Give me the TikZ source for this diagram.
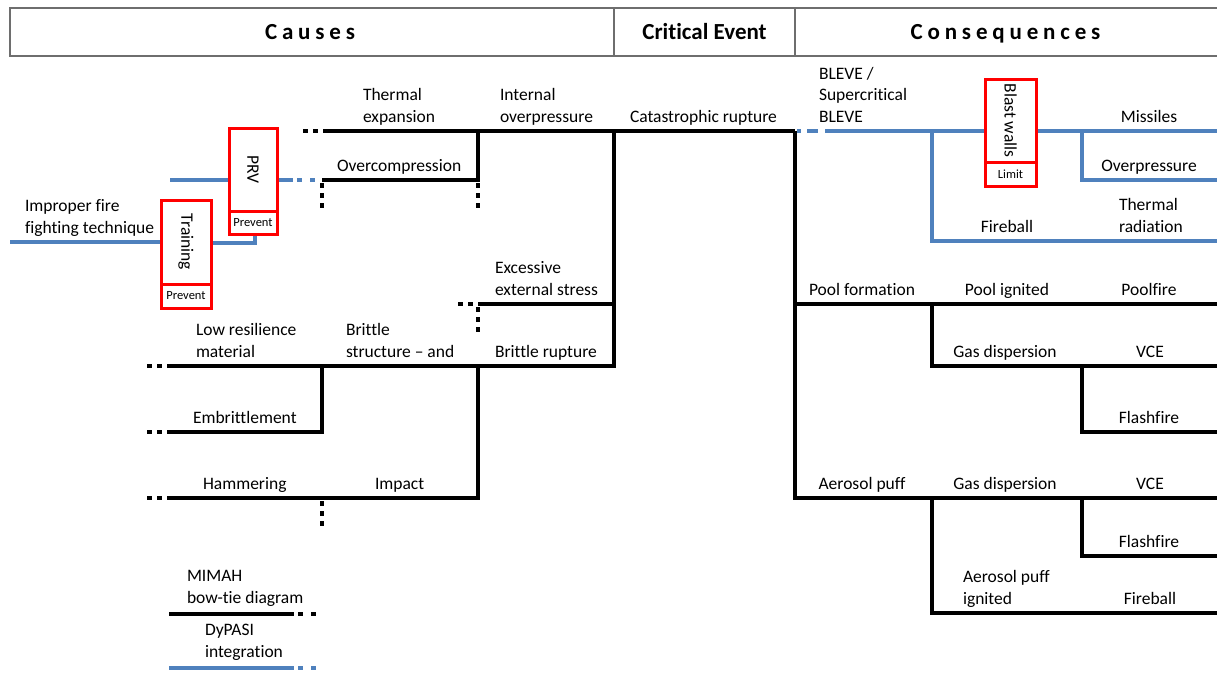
\documentclass[tikz,border=0pt]{standalone}
\usepackage{fontspec}
\setmainfont{Carlito}[Ligatures=NoCommon]
\usepackage{graphicx}
\usepackage{tikz}
\usetikzlibrary{calc}
\definecolor{dyblue}{HTML}{4F81BD}
\definecolor{barred}{HTML}{FF0000}
\definecolor{hdrline}{HTML}{6E6E6E}
\pgfdeclarelayer{bg}
\pgfsetlayers{bg,main}

\tikzset{
  mimah/.style={black, line width=4pt, line join=miter},
  dypasi/.style={dyblue, line width=4pt, line join=miter},
  tail/.style={line width=4pt, dash pattern=on 5pt off 5pt},
  lbl/.style={font=\fontsize{17.5}{21.5}\selectfont, inner sep=0pt, outer sep=0pt,
    anchor=south, align=center, execute at end node=\strut},
  lbll/.style={lbl, anchor=south west, align=left},
  barrier/.style={draw=barred, line width=3pt, fill=white, inner sep=0pt, outer sep=0pt,
    font=\fontsize{17.5}{21.5}\selectfont},
  bartag/.style={barrier, font=\fontsize{12.5}{14}\selectfont},
  hdr/.style={font=\fontsize{23}{28}\selectfont\bfseries, inner sep=0pt, anchor=base},
}

\begin{document}
\begin{tikzpicture}[x=1pt, y=-1pt]
  \useasboundingbox (0,0) rectangle (1217,673);
  % header band
  \draw[hdrline, line width=1.2pt] (1217,8) -- (10,8) -- (10,56) -- (1217,56);
  \draw[hdrline, line width=1.2pt] (614,8) -- (614,56) (795,8) -- (795,56);
  \node[hdr] (hcau) at (310,39.5) {\addfontfeatures{LetterSpace=21}Causes};
  \node[hdr] (hce)  at (704.5,39.5) {Critical Event};
  \node[hdr] (hcon) at (1005.5,39.5) {\addfontfeatures{LetterSpace=21}Consequences};

  % junctions, causes side
  \coordinate (E)   at (1217,0);
  \coordinate (te)  at (323,131);
  \coordinate (io)  at (478,131);
  \coordinate (cr)  at (614,131);
  \coordinate (cq)  at (795,131);
  \coordinate (oc)  at (322,180);
  \coordinate (ocj) at (478,180);
  \coordinate (ees) at (478,304);
  \coordinate (lrm) at (167,366);
  \coordinate (bs)  at (322,366);
  \coordinate (bst) at (478,366);
  \coordinate (emb) at (167,432);
  \coordinate (ham) at (167,498);
  \coordinate (imp) at (322,498);
  % junctions, consequences side
  \coordinate (bl)   at (825,131);
  \coordinate (fbj)  at (932,131);
  \coordinate (fb)   at (932,241);
  \coordinate (msj)  at (1082,131);
  \coordinate (op)   at (1082,180);
  \coordinate (pf)   at (795,304);
  \coordinate (pi)   at (932,304);
  \coordinate (gd)   at (932,366);
  \coordinate (vce)  at (1082,366);
  \coordinate (ff)   at (1082,432);
  \coordinate (ap)   at (795,498);
  \coordinate (gd2)  at (932,498);
  \coordinate (vce2) at (1082,498);
  \coordinate (ff2)  at (1082,556);
  \coordinate (api)  at (932,613);

  % MIMAH branches (black)
  \draw[mimah] (te) -- (cq);
  \draw[mimah] (oc) -| (io);
  \draw[mimah] (lrm) -| (cr);
  \draw[mimah] (ees) -- (ees -| cr);
  \draw[mimah] (emb) -| (bs);
  \draw[mimah] (ham) -| (bst);
  \draw[mimah] (cq) -- (ap) -- (ap -| E);
  \draw[mimah] (pf) -- (pf -| E);
  \draw[mimah] (pi) -- (gd) -- (gd -| E);
  \draw[mimah] (vce) -- (ff) -- (ff -| E);
  \draw[mimah] (gd2) -- (api) -- (api -| E);
  \draw[mimah] (vce2) -- (ff2) -- (ff2 -| E);
  % open ends
  \foreach \c in {te,ees,lrm,emb,ham}
    \draw[tail] ($(\c)+(-20,0)$) -- (\c);
  \foreach \c in {oc,ocj,ees,imp}
    \draw[tail] ($(\c)+(0,3)$) -- ++(0,27);

  % DyPASI branches (blue)
  \draw[dypasi] (bl) -- (bl -| E);
  \draw[dypasi] (fbj) -- (fb) -- (fb -| E);
  \draw[dypasi] (msj) -- (op) -- (op -| E);
  \draw[dypasi, dash pattern=on 4pt off 6pt on 11pt off 40pt] ($(cq)+(2,0)$) -- ($(bl)+(-7,0)$);

  % barriers
  \node[barrier, minimum width=48pt, minimum height=83pt] (prv) at (253,169.5) {\rotatebox{-90}{PRV}};
  \node[bartag, minimum width=48pt, minimum height=23pt, anchor=north] (prvtag) at (prv.south) {Prevent};
  \node[barrier, minimum width=50pt, minimum height=84pt] (trn) at (186,242) {\rotatebox{-90}{Training}};
  \node[bartag, minimum width=50pt, minimum height=24pt, anchor=north] (trntag) at (trn.south) {Prevent};
  \node[barrier, minimum width=51pt, minimum height=83pt] (blast) at (1010.5,120.5) {\rotatebox{-90}{Blast walls}};
  \node[bartag, minimum width=51pt, minimum height=24pt, anchor=north] (blasttag) at (blast.south) {Limit};

  \coordinate (prvin)  at (170,180);
  \coordinate (prvout) at (293,180);
  \coordinate (ifft)   at (10,242);
  \begin{pgfonlayer}{bg}
    \draw[dypasi] (prvin) -- (prvin -| prv.west);
    \draw[dypasi] (prvout -| prv.east) -- (prvout);
    \draw[dypasi, dash pattern=on 5pt off 8pt] ($(prvout)+(4,0)$) -- ($(oc)+(-6,0)$);
    \draw[dypasi] (ifft) -- (trn.west);
    \draw[dypasi] ($(trn.east)+(0,1)$) -| ($(prvtag.south)+(2,0)$);
  \end{pgfonlayer}

  % labels, causes
  \node[lbll] (l-ifft) at (25,239.5)   {Improper fire\\fighting technique};
  \node[lbll] (l-te)   at (363,128.5)  {Thermal\\expansion};
  \node[lbll] (l-io)   at (500,128.5)  {Internal\\overpressure};
  \node[lbll] (l-cr)   at (630,128.5)  {Catastrophic rupture};
  \node[lbll] (l-oc)   at (337,177.5)  {Overcompression};
  \node[lbll] (l-ees)  at (495,301.5)  {Excessive\\external stress};
  \node[lbll] (l-lrm)  at (196,363.5)  {Low resilience\\material};
  \node[lbll] (l-bs)   at (346,363.5)  {Brittle\\structure -- and};
  \node[lbll] (l-br)   at (495,363.5)  {Brittle rupture};
  \node[lbll] (l-emb)  at (193,429.5)  {Embrittlement};
  \node[lbll] (l-ham)  at (203,495.5)  {Hammering};
  \node[lbll] (l-imp)  at (375,495.5)  {Impact};
  % labels, consequences
  \node[lbll] (l-bl)   at (819,128.5)  {BLEVE /\\Supercritical\\BLEVE};
  \node[lbl]  (l-ms)   at (1149,128.5) {Missiles};
  \node[lbl]  (l-op)   at (1149,177.5) {Overpressure};
  \node[lbll] (l-tr)   at (1119,238.5) {Thermal\\radiation};
  \node[lbl]  (l-fb)   at (1007,238.5) {Fireball};
  \node[lbl]  (l-pf)   at (862,301.5)  {Pool formation};
  \node[lbl]  (l-pi)   at (1007,301.5) {Pool ignited};
  \node[lbl]  (l-pfr)  at (1149,301.5) {Poolfire};
  \node[lbl]  (l-gd)   at (1005,363.5) {Gas dispersion};
  \node[lbl]  (l-vce)  at (1150,363.5) {VCE};
  \node[lbl]  (l-ff)   at (1149,429.5) {Flashfire};
  \node[lbl]  (l-ap)   at (862,495.5)  {Aerosol puff};
  \node[lbl]  (l-gd2)  at (1005,495.5) {Gas dispersion};
  \node[lbl]  (l-vce2) at (1150,495.5) {VCE};
  \node[lbl]  (l-ff2)  at (1149,553.5) {Flashfire};
  \node[lbll] (l-api)  at (963,610.5)  {Aerosol puff\\ignited};
  \node[lbl]  (l-fb2)  at (1150,610.5) {Fireball};

  % legend
  \coordinate (lgm) at (169,614);
  \coordinate (lgd) at (169,668);
  \draw[mimah] (lgm) -- ++(125,0) coordinate (lgmE);
  \draw[mimah, dash pattern=on 5pt off 8pt] ($(lgmE)+(4,0)$) -- ++(19,0);
  \draw[dypasi] (lgd) -- ++(125,0) coordinate (lgdE);
  \draw[dypasi, dash pattern=on 5pt off 8pt] ($(lgdE)+(4,0)$) -- ++(19,0);
  \node[lbll] (l-lgm) at (187,609.5) {MIMAH\\bow-tie diagram};
  \node[lbll] (l-lgd) at (205,663.5) {DyPASI\\integration};
\end{tikzpicture}
\end{document}
